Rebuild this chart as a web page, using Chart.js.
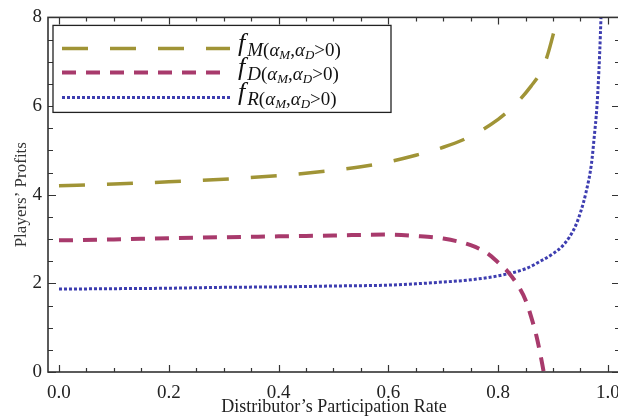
<!DOCTYPE html>
<html>
<head>
<meta charset="utf-8">
<title>Players' Profits</title>
<script src="https://cdn.jsdelivr.net/npm/chart.js"></script>
<style>
  body { margin: 0; overflow: hidden; background: #fff; }
  #wrap { width: 630px; height: 420px; }
</style>
</head>
<body>
<div id="wrap"><canvas id="chart"></canvas></div>

<script>
// values (x = distributor's participation rate)
var rateM   = [0, 0.1, 0.2, 0.3, 0.4, 0.5, 0.55, 0.6, 0.65, 0.7, 0.75, 0.8, 0.83, 0.86, 0.88, 0.89, 0.9, 0.91, 0.92];
var profitM = [4.20, 4.24, 4.29, 4.35, 4.43, 4.55, 4.63, 4.74, 4.89, 5.07, 5.32, 5.70, 6.02, 6.45, 6.82, 7.15, 7.6, 8.1, 8.7];

var rateD   = [0, 0.1, 0.2, 0.3, 0.4, 0.5, 0.6, 0.65, 0.7, 0.75, 0.78, 0.8, 0.82, 0.84, 0.85, 0.86, 0.87, 0.88, 0.89];
var profitD = [2.97, 2.99, 3.02, 3.04, 3.06, 3.08, 3.10, 3.07, 3.01, 2.86, 2.68, 2.47, 2.23, 1.87, 1.62, 1.25, 0.8, 0.2, -0.5];

var rateR   = [0, 0.1, 0.2, 0.3, 0.4, 0.5, 0.6, 0.65, 0.7, 0.75, 0.8, 0.85, 0.88, 0.9, 0.92, 0.94, 0.95, 0.96, 0.97, 0.975, 0.98, 0.985, 0.99];
var profitR = [1.87, 1.88, 1.89, 1.91, 1.92, 1.94, 1.96, 1.99, 2.03, 2.08, 2.17, 2.33, 2.52, 2.67, 2.88, 3.27, 3.6, 4.05, 4.7, 5.3, 6.0, 7.2, 9.0];

var xTicks = [0, 0.2, 0.4, 0.6, 0.8, 1.0];
var yTicks = [0, 2, 4, 6, 8];
var seriesNames = ["M", "D", "R"];

var serif = "'Liberation Serif', 'DejaVu Serif', serif";

function pairs(xs, ys) {
    return xs.map(function (x, i) { return { x: x, y: ys[i] }; });
}

// box frame with inward ticks on all four sides (Mathematica style)
var frameTicks = {
    id: 'frameTicks',
    afterDatasetsDraw: function (chart) {
        var ctx = chart.ctx, a = chart.chartArea;
        var sx = chart.scales.x, sy = chart.scales.y;
        ctx.save();
        ctx.setLineDash([]);
        ctx.strokeStyle = '#333';
        ctx.lineWidth = 1.6;
        ctx.strokeRect(a.left, a.top, a.right - a.left, a.bottom - a.top);
        ctx.lineWidth = 1.2;
        ctx.beginPath();
        for (var i = 0; i <= 20; i++) {
            var px = Math.round(sx.getPixelForValue(i * 0.05)) + 0.5;
            var len = (i % 4 === 0) ? 7 : 4;
            ctx.moveTo(px, a.bottom); ctx.lineTo(px, a.bottom - len);
            ctx.moveTo(px, a.top); ctx.lineTo(px, a.top + len);
        }
        for (var j = 0; j <= 16; j++) {
            var py = Math.round(sy.getPixelForValue(j * 0.5)) + 0.5;
            var l = (j % 4 === 0) ? 8 : 5;
            ctx.moveTo(a.left, py); ctx.lineTo(a.left + l, py);
            ctx.moveTo(a.right, py); ctx.lineTo(a.right - l, py);
        }
        ctx.stroke();
        ctx.restore();
    }
};

// legend box with subscripted labels
function drawRich(ctx, x, y, parts) {
    parts.forEach(function (p) {
        ctx.font = (p.it ? 'italic ' : '') + p.size + 'px ' + serif;
        ctx.fillText(p.t, x, y + p.dy);
        x += ctx.measureText(p.t).width + (p.kern || 0);
    });
}

var legendBox = {
    id: 'legendBox',
    afterDraw: function (chart) {
        var ctx = chart.ctx, a = chart.chartArea;
        var left = a.left + 5, top = a.top + 8, w = 338, h = 87;
        ctx.save();
        ctx.fillStyle = '#fff';
        ctx.fillRect(left, top, w, h);
        ctx.strokeStyle = '#222';
        ctx.lineWidth = 1.3;
        ctx.strokeRect(left, top, w, h);
        var rows = [23, 47, 72];
        chart.data.datasets.forEach(function (ds, k) {
            var y = top + rows[k];
            ctx.beginPath();
            ctx.setLineDash(ds.borderDash);
            ctx.strokeStyle = ds.borderColor;
            ctx.lineWidth = ds.borderWidth;
            ctx.moveTo(left + 9, y);
            ctx.lineTo(left + 177, y);
            ctx.stroke();
            ctx.setLineDash([]);
            ctx.fillStyle = '#111';
            ctx.textBaseline = 'alphabetic';
            drawRich(ctx, left + 185, y + 3, [
                { t: 'f', size: 26, dy: 0, it: true, kern: 2 },
                { t: seriesNames[k], size: 19, dy: 5, it: true },
                { t: '(', size: 19, dy: 5 },
                { t: '\u03b1', size: 19, dy: 5, it: true },
                { t: 'M', size: 13, dy: 8, it: true },
                { t: ',', size: 19, dy: 5 },
                { t: '\u03b1', size: 19, dy: 5, it: true },
                { t: 'D', size: 13, dy: 8, it: true },
                { t: '>0)', size: 19, dy: 5 }
            ]);
        });
        ctx.restore();
    }
};

var ctx = document.getElementById('chart').getContext('2d');
var chart = new Chart(ctx, {
    type: 'line',
    data: {
        datasets: [
            {
                label: 'fM',
                data: pairs(rateM, profitM),
                borderColor: '#a09436',
                borderWidth: 3.5,
                borderDash: [26, 22],
                pointRadius: 0,
                cubicInterpolationMode: 'monotone',
                fill: false
            },
            {
                label: 'fD',
                data: pairs(rateD, profitD),
                borderColor: '#a83a6c',
                borderWidth: 4,
                borderDash: [14, 10],
                pointRadius: 0,
                cubicInterpolationMode: 'monotone',
                fill: false
            },
            {
                label: 'fR',
                data: pairs(rateR, profitR),
                borderColor: '#3d3db0',
                borderWidth: 3,
                borderDash: [3, 2],
                pointRadius: 0,
                cubicInterpolationMode: 'monotone',
                fill: false
            }
        ]
    },
    options: {
        responsive: true,
        maintainAspectRatio: false,
        animation: false,
        layout: { padding: { top: 17, right: 9, left: 0, bottom: 0 } },
        plugins: {
            legend: { display: false },
            tooltip: { enabled: false }
        },
        scales: {
            x: {
                type: 'linear',
                min: -0.02,
                max: 1.022,
                grid: { display: false, drawTicks: false },
                border: { display: false },
                afterFit: function (s) { s.height = 48; },
                afterBuildTicks: function (s) { s.ticks = xTicks.map(function (v) { return { value: v }; }); },
                ticks: {
                    padding: 10,
                    color: '#222',
                    font: { family: serif, size: 19 },
                    callback: function (v) { return v.toFixed(1); }
                },
                title: {
                    display: true,
                    text: 'Distributor\u2019s Participation Rate',
                    color: '#222',
                    font: { family: serif, size: 18 },
                    padding: { top: 0, bottom: 2 }
                }
            },
            y: {
                min: 0,
                max: 8,
                grid: { display: false, drawTicks: false },
                border: { display: false },
                afterFit: function (s) { s.width = 48; },
                afterBuildTicks: function (s) { s.ticks = yTicks.map(function (v) { return { value: v }; }); },
                ticks: {
                    padding: 6,
                    color: '#222',
                    font: { family: serif, size: 19 }
                },
                title: {
                    display: true,
                    text: 'Players\u2019 Profits',
                    color: '#333',
                    font: { family: serif, size: 17 },
                    padding: { top: 11, bottom: 0 }
                }
            }
        }
    },
    plugins: [frameTicks, legendBox]
});
</script>
</body>
</html>
